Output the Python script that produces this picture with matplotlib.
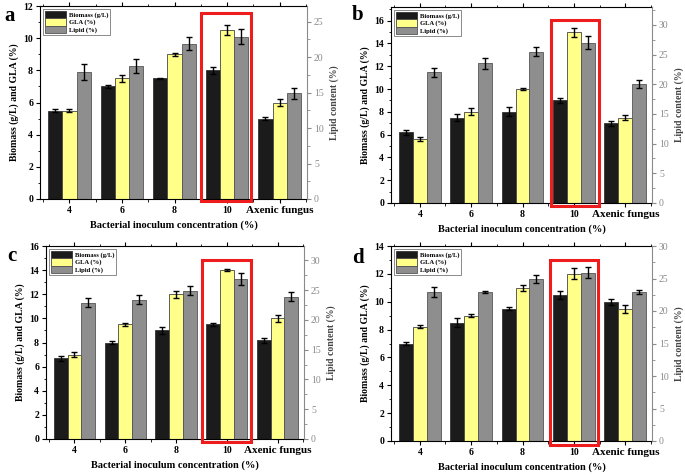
import numpy as np
import matplotlib
matplotlib.use('Agg')
from matplotlib import pyplot as plt
from matplotlib.patches import Rectangle
from matplotlib.ticker import MultipleLocator, FixedLocator

plt.rcParams['font.family'] = ['Liberation Serif', 'DejaVu Serif']
plt.rcParams['font.weight'] = 'bold'

# categories
categories = ['4', '6', '8', '10', 'Axenic fungus']

# panel a
a_biomass = [5.5, 7.0, 7.5, 8.0, 5.0]
a_biomass_err = [0.1, 0.1, 0.05, 0.2, 0.1]
a_gla = [5.5, 7.5, 9.0, 10.5, 6.0]
a_gla_err = [0.1, 0.2, 0.1, 0.3, 0.2]
a_lipid = [17.9, 18.8, 21.9, 22.9, 14.9]
a_lipid_err = [1.1, 1.0, 0.9, 1.0, 0.8]

# panel b
b_biomass = [6.2, 7.5, 8.0, 9.0, 7.0]
b_biomass_err = [0.2, 0.3, 0.4, 0.2, 0.2]
b_gla = [5.6, 8.0, 10.0, 15.0, 7.5]
b_gla_err = [0.2, 0.3, 0.1, 0.4, 0.2]
b_lipid = [22.0, 23.5, 25.5, 27.0, 20.0]
b_lipid_err = [0.8, 0.9, 0.7, 1.1, 0.7]

# panel c
c_biomass = [6.7, 8.0, 9.0, 9.5, 8.2]
c_biomass_err = [0.2, 0.1, 0.3, 0.1, 0.2]
c_gla = [7.0, 9.5, 12.0, 14.0, 10.0]
c_gla_err = [0.2, 0.1, 0.3, 0.1, 0.3]
c_lipid = [22.9, 23.4, 24.9, 26.9, 23.9]
c_lipid_err = [0.8, 0.7, 0.8, 1.0, 0.8]

# panel d
d_biomass = [7.0, 8.5, 9.5, 10.5, 10.0]
d_biomass_err = [0.1, 0.3, 0.1, 0.3, 0.2]
d_gla = [8.2, 9.0, 11.0, 12.0, 9.5]
d_gla_err = [0.1, 0.1, 0.2, 0.4, 0.3]
d_lipid = [22.9, 22.9, 24.9, 25.9, 22.9]
d_lipid_err = [0.8, 0.2, 0.6, 0.8, 0.3]

W, H = 685, 475
fig = plt.figure(figsize=(W / 100, H / 100), dpi=100)

BLACK = '#1b1b1b'
YELLOW = '#ffff8a'
GRAY = '#8e8e8e'
RGRAY = '#8a8a8a'


def px_rect(l, t, r, b):
    return [l / W, 1 - b / H, (r - l) / W, (b - t) / H]


def panel(rect, letter, letter_xy, bio, bio_e, gla, gla_e, lip, lip_e,
          ytop, ystep, rtop, box):
    ax = fig.add_axes(rect)
    x = np.arange(len(categories))
    w = 0.27
    ekw = dict(ecolor='black', elinewidth=1.0, capsize=2.2, capthick=1.0)
    ax.bar(x - w, bio, w, yerr=bio_e, color=BLACK, edgecolor='#333333',
           linewidth=0.6, label='Biomass (g/L)', error_kw=ekw, zorder=2)
    ax.bar(x, gla, w, yerr=gla_e, color=YELLOW, edgecolor='#444444',
           linewidth=0.6, label='GLA (%)', error_kw=ekw, zorder=2)
    # lipid drawn on left axes scaled to the right axis
    scale = ytop / rtop
    ax.bar(x + w, np.array(lip) * scale, w, yerr=np.array(lip_e) * scale,
           color=GRAY, edgecolor='#555555', linewidth=0.6, label='Lipid (%)',
           error_kw=ekw, zorder=2)

    ax.set_xlim(-0.56, 4.52)
    ax.set_ylim(0, ytop)
    ax.set_xticks(x)
    ax.set_xticklabels(categories[:-1] + [''], fontsize=7)
    ax.xaxis.set_minor_locator(FixedLocator(np.arange(-0.5, 4.6, 1.0)))
    ax.yaxis.set_major_locator(MultipleLocator(ystep))
    ax.yaxis.set_minor_locator(MultipleLocator(ystep / 2))
    ax.tick_params(axis='y', labelsize=7, length=3, width=0.8, direction='out', pad=2)
    ax.tick_params(axis='y', which='minor', length=1.8, width=0.6, direction='out')
    ax.tick_params(axis='x', labelsize=7, length=3, width=0.8, direction='out', pad=2,
                   top=True)
    ax.tick_params(axis='x', which='minor', length=1.8, width=0.6, direction='out',
                   top=True)
    ax.spines['right'].set_visible(False)
    for s in ['left', 'bottom', 'top']:
        ax.spines[s].set_linewidth(0.8)
    ax.text(4, -0.035, 'Axenic fungus', transform=ax.get_xaxis_transform(),
            ha='center', va='top', fontsize=8, fontweight='bold')
    ax.set_ylabel('Biomass (g/L) and GLA (%)', fontsize=7, fontweight='bold', labelpad=3)
    ax.set_xlabel('Bacterial inoculum concentration (%)', fontsize=7.5,
                  fontweight='bold', labelpad=4)

    ax2 = ax.twinx()
    ax2.set_ylim(0, rtop)
    ax2.yaxis.set_major_locator(MultipleLocator(5))
    ax2.yaxis.set_minor_locator(MultipleLocator(2.5))
    ax2.tick_params(axis='y', labelsize=7, length=3, width=0.8, colors=RGRAY, pad=2)
    ax2.tick_params(axis='y', which='minor', length=1.8, width=0.6, colors=RGRAY)
    for lab in ax2.get_yticklabels():
        lab.set_fontweight('normal')
    for s in ['left', 'bottom', 'top']:
        ax2.spines[s].set_visible(False)
    ax2.spines['right'].set_color(RGRAY)
    ax2.spines['right'].set_linewidth(0.8)
    ax2.set_ylabel('Lipid content (%)', fontsize=7, fontweight='bold', color='#444444',
                   labelpad=4)

    leg = ax.legend(loc='upper left', fontsize=4.8, frameon=True, fancybox=False,
                    handlelength=3.2, handleheight=1.3, handletextpad=0.4,
                    borderpad=0.3, labelspacing=0.05, borderaxespad=0.4)
    leg.get_frame().set_edgecolor('#555555')
    leg.get_frame().set_linewidth(0.6)
    leg.set_zorder(5)

    bx0, bx1, by0, by1 = box
    r = Rectangle((3 + bx0, by0), bx1 - bx0, by1 - by0,
                  transform=ax.get_xaxis_transform(), fill=False,
                  edgecolor='#ee1c1c', linewidth=2.2, clip_on=False, zorder=6)
    ax.add_patch(r)

    fig.text(letter_xy[0] / W, 1 - letter_xy[1] / H, letter, fontsize=15,
             fontweight='bold', ha='left', va='center')


panel(px_rect(40, 6, 307, 199), 'a', (4, 16), a_biomass, a_biomass_err,
      a_gla, a_gla_err, a_lipid, a_lipid_err, 12, 2, 27.2,
      (-0.50, 0.45, -0.01, 0.962))
panel(px_rect(391, 7, 652, 203), 'b', (352, 15), b_biomass, b_biomass_err,
      b_gla, b_gla_err, b_lipid, b_lipid_err, 17.2, 2, 33.0,
      (-0.45, 0.49, -0.017, 0.935))
panel(px_rect(46, 246, 304, 439), 'c', (7, 256), c_biomass, c_biomass_err,
      c_gla, c_gla_err, c_lipid, c_lipid_err, 16, 2, 32.4,
      (-0.48, 0.47, -0.017, 0.93))
panel(px_rect(391, 246, 652, 441), 'd', (352, 258), d_biomass, d_biomass_err,
      d_gla, d_gla_err, d_lipid, d_lipid_err, 14, 2, 30.0,
      (-0.47, 0.46, -0.019, 0.93))

fig.savefig('out.png', dpi=100)
